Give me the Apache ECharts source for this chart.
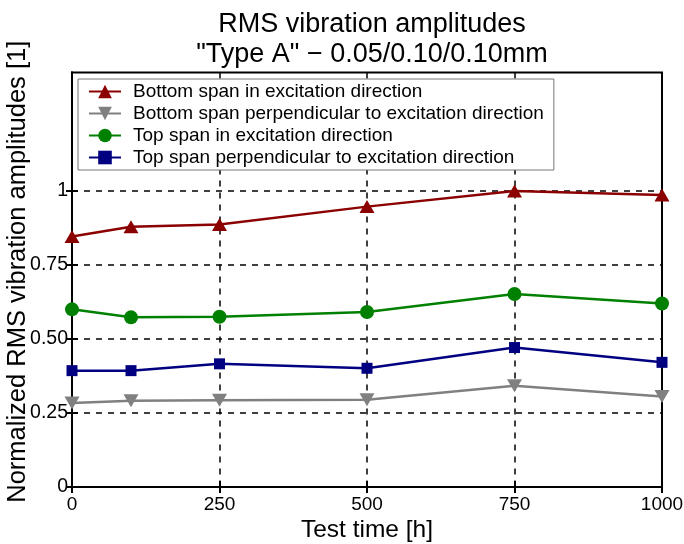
<!DOCTYPE html>
<html>
<head>
<meta charset="utf-8">
<script src="https://cdn.jsdelivr.net/npm/echarts@6/dist/echarts.min.js"></script>
<style>html,body{margin:0;padding:0;background:#fff;}#chart{width:684px;height:544px;}</style>
</head>
<body>
<div id="chart"></div>
<script>
const testTime = [0, 100, 250, 500, 750, 1000];
const bottomInExc = [0.846, 0.879, 0.887, 0.947, 1.000, 0.986];
const bottomPerp = [0.284, 0.291, 0.293, 0.295, 0.342, 0.306];
const topInExc = [0.600, 0.573, 0.575, 0.591, 0.652, 0.620];
const topPerp = [0.393, 0.393, 0.416, 0.401, 0.471, 0.421];
const seriesNames = [
  'Bottom span in excitation direction',
  'Bottom span perpendicular to excitation direction',
  'Top span in excitation direction',
  'Top span perpendicular to excitation direction'
];
const yTickValues = [0, 0.25, 0.5, 0.75, 1];
const yTickLabels = ['0', '0.25', '0.50', '0.75', '1'];
const xTickLabels = ['0', '250', '500', '750', '1000'];

const FONT = "'Liberation Sans', Arial, sans-serif";
function pts(ys) { return testTime.map((x, i) => [x, ys[i]]); }

const chart = echarts.init(document.getElementById('chart'));
const mk = (name, data, color, symbol, size, rot) => ({
  name, type: 'line', data: pts(data), symbol, symbolSize: size, symbolRotate: rot || 0,
  lineStyle: { color, width: 2.5 }, itemStyle: { color }, showSymbol: true,
  animation: false, z: 3
});
chart.setOption({
  animation: false,
  backgroundColor: '#fff',
  title: {
    text: 'RMS vibration amplitudes\n"Type A" \u2212 0.05/0.10/0.10mm',
    left: 367, top: 5, textAlign: 'center',
    textStyle: { fontFamily: FONT, fontSize: 27, fontWeight: 'normal', color: '#000', lineHeight: 30 }
  },
  legend: {
    orient: 'vertical', left: 78, top: 79,
    padding: [3, 10, 3, 10],
    backgroundColor: '#fff', borderColor: '#777', borderWidth: 1,
    itemWidth: 32, itemHeight: 17, itemGap: 3,
    textStyle: { fontFamily: FONT, fontSize: 19, color: '#000', padding: [0, 0, 0, 7], lineHeight: 19 },
    data: seriesNames
  },
  grid: { left: 72, right: 22, top: 72.5, bottom: 57, outerBoundsMode: 'none', containLabel: false,
    show: true, borderColor: '#000', borderWidth: 2, backgroundColor: 'transparent' },
  xAxis: [{
    type: 'value', min: 0, max: 1000, interval: 250,
    name: 'Test time [h]', nameLocation: 'middle', nameGap: 31, nameMoveOverlap: false,
    nameTextStyle: { fontFamily: FONT, fontSize: 24.5, color: '#000' },
    axisLine: { show: true, lineStyle: { color: '#000', width: 2 } },
    axisTick: { show: true, inside: true, length: 6, lineStyle: { color: '#000', width: 2 } },
    axisLabel: { fontFamily: FONT, fontSize: 19, color: '#000', margin: 8,
      formatter: (v) => xTickLabels[Math.round(v / 250)] },
    splitLine: { show: true, lineStyle: { color: '#000', type: [6, 6], width: 1.5 } }
  }, {
    type: 'value', position: 'top', min: 0, max: 1000, interval: 250,
    axisLine: { show: true, lineStyle: { color: '#000', width: 2 } },
    axisTick: { show: true, inside: true, length: 6, lineStyle: { color: '#000', width: 2 } },
    axisLabel: { show: false }, splitLine: { show: false }
  }],
  yAxis: [{
    type: 'value', min: 0, max: 1.4, interval: 0.25,
    name: 'Normalized RMS vibration amplitudes [1]', nameLocation: 'middle', nameGap: 41, nameMoveOverlap: false,
    nameTextStyle: { fontFamily: FONT, fontSize: 25.5, color: '#000', padding: [0, 0, 0, 16] },
    axisLine: { show: true, lineStyle: { color: '#000', width: 2 } },
    axisTick: { show: true, inside: true, length: 6, customValues: yTickValues, lineStyle: { color: '#000', width: 2 } },
    axisLabel: { fontFamily: FONT, fontSize: 19.5, color: '#000', margin: 4, customValues: yTickValues,
      formatter: (v) => { const i = yTickValues.findIndex(t => Math.abs(t - v) < 1e-6); return i >= 0 ? yTickLabels[i] : ''; } },
    splitLine: { show: true, lineStyle: { color: ['transparent', '#000', '#000', '#000', '#000', 'transparent', 'transparent'], type: [6, 6], width: 1.5 } }
  }, {
    type: 'value', position: 'right', min: 0, max: 1.4, interval: 0.25,
    axisLine: { show: true, lineStyle: { color: '#000', width: 2 } },
    axisTick: { show: true, inside: true, length: 6, customValues: yTickValues, lineStyle: { color: '#000', width: 2 } },
    axisLabel: { show: false }, splitLine: { show: false }
  }],
  series: [
    mk(seriesNames[0], bottomInExc, '#8b0000', 'triangle', [15, 13], 0),
    mk(seriesNames[1], bottomPerp, '#808080', 'triangle', [15, 13], 180),
    mk(seriesNames[2], topInExc, '#008000', 'circle', 14, 0),
    mk(seriesNames[3], topPerp, '#000080', 'rect', 11, 0)
  ]
});
</script>
</body>
</html>
